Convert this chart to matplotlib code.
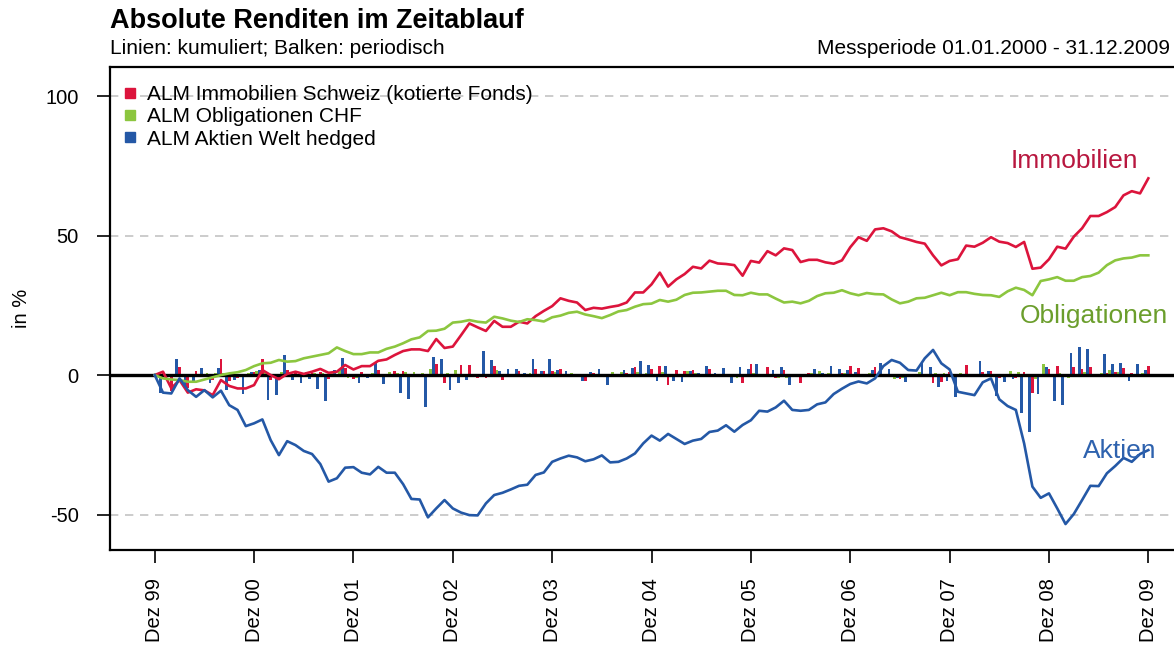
import numpy as np
import matplotlib
matplotlib.use('Agg')
import matplotlib.pyplot as plt
from matplotlib.lines import Line2D

plt.rcParams['font.family'] = ['Liberation Sans', 'DejaVu Sans']

# Cumulative returns in % (month-end, Dez 99 .. Dez 09)
immobilien = [0, 1.2, -4.7, -1.8, -6.3, -5.1, -5.5, -7.2, -1.8, -3.9, -4.8, -4.8,
              -3.6, 1.8, 0, -1.5, 0.4, 1.2, 0.4, 1.2, 2.2, 0.8, 1.2, 3.6,
              2.0, 3.2, 3.2, 5.1, 5.6, 7.2, 8.6, 9.2, 9.2, 8.6, 12.9, 9.7,
              10.2, 14.3, 18.5, 17.1, 15.8, 19.4, 17.3, 17.3, 19.1, 18.5, 21.1, 23.0,
              24.7, 27.5, 26.6, 26.0, 23.3, 24.1, 23.8, 24.4, 24.9, 26.0, 29.6, 29.6,
              32.5, 36.7, 31.7, 34.3, 36.2, 38.8, 38.2, 41.0, 40.0, 39.8, 39.4, 35.6,
              40.9, 40.3, 44.4, 42.9, 45.4, 44.8, 40.5, 41.3, 41.3, 40.4, 39.9, 41.1,
              45.8, 49.4, 48.1, 52.2, 52.6, 51.5, 49.4, 48.6, 47.7, 47.1, 42.9, 39.3,
              40.9, 41.5, 46.4, 46.0, 47.4, 49.4, 47.8, 47.3, 45.9, 47.7, 38.1, 38.5,
              41.5, 46.0, 45.3, 49.6, 52.6, 57.0, 57.0, 58.4, 60.2, 64.4, 65.9, 65.1,
              70.5]
obligationen = [0, -1.2, -1.6, -1.8, -2.4, -2.4, -1.6, -0.8, 0, 0.6, 1.0, 1.8,
                3.2, 4.2, 4.4, 5.4, 4.8, 5.0, 6.0, 6.6, 7.2, 7.8, 9.9, 8.6,
                7.5, 7.5, 8.1, 8.1, 9.4, 10.2, 11.4, 12.8, 13.5, 15.8, 15.9, 16.6,
                18.8, 19.1, 19.7, 19.1, 18.8, 20.9, 20.3, 19.5, 19.0, 20.0, 19.7, 19.2,
                20.7, 21.3, 22.3, 22.7, 21.7, 21.1, 20.4, 21.5, 22.8, 23.3, 24.5, 25.4,
                25.6, 26.9, 26.3, 27.0, 28.7, 29.5, 29.6, 29.9, 30.2, 30.2, 28.7, 28.6,
                29.5, 28.9, 28.9, 27.4, 26.0, 26.3, 25.7, 26.6, 28.3, 29.3, 29.5, 30.4,
                29.3, 28.6, 29.4, 29.0, 28.9, 27.1, 25.7, 26.3, 27.5, 27.7, 28.6, 29.5,
                28.6, 29.7, 29.7, 29.1, 28.7, 28.6, 28.0, 30.0, 31.3, 30.5, 28.6, 33.7,
                34.3, 35.1, 33.8, 33.8, 35.1, 35.5, 36.7, 39.4, 41.1, 41.8, 42.1, 42.9,
                42.9]
aktien = [0, -6.3, -6.6, -1.2, -5.4, -7.8, -5.4, -8.0, -5.6, -10.8, -12.5, -18.3,
          -17.3, -15.9, -23.3, -28.7, -23.7, -25.1, -27.2, -28.3, -31.9, -38.2, -37.0, -33.2,
          -33.0, -35.0, -35.6, -32.9, -35.0, -35.0, -39.1, -44.4, -44.6, -51.0, -47.8, -44.8,
          -47.8, -49.3, -50.2, -50.3, -46.0, -43.0, -42.2, -41.0, -39.7, -39.3, -35.8, -34.9,
          -31.1, -29.9, -28.9, -29.5, -30.9, -30.2, -28.8, -31.3, -31.1, -29.9, -28.1, -24.5,
          -21.7, -23.5, -21.1, -22.9, -24.7, -23.5, -22.9, -20.4, -19.9, -18.0, -20.3, -17.9,
          -16.2, -12.8, -13.1, -11.6, -9.2, -12.5, -12.8, -12.5, -10.5, -9.8, -6.8, -4.9,
          -3.2, -2.3, -3.0, -1.2, 3.2, 5.4, 4.4, 1.8, 1.6, 6.0, 9.0, 4.2,
          2.0, -6.0, -6.6, -7.2, -2.6, -1.2, -8.7, -11.1, -12.5, -24.5, -40.0, -44.0,
          -42.4, -47.8, -53.4, -49.8, -44.8, -39.7, -39.8, -35.2, -32.6, -29.7, -31.1, -28.3,
          -26.9]

year_labels = ['Dez 99', 'Dez 00', 'Dez 01', 'Dez 02', 'Dez 03', 'Dez 04',
               'Dez 05', 'Dez 06', 'Dez 07', 'Dez 08', 'Dez 09']
legend_labels = ['ALM Immobilien Schweiz (kotierte Fonds)', 'ALM Obligationen CHF',
                 'ALM Aktien Welt hedged']

c_red, c_green, c_blue = '#DC143C', '#8CC63F', '#2458A6'

W, H = 1174, 651


def periodic(cum):
    # monthly return implied by the cumulative series
    cum = np.asarray(cum) / 100.0
    return ((1 + cum[1:]) / (1 + cum[:-1]) - 1) * 100


months = np.arange(len(immobilien))
bw = 0.33

fig = plt.figure(figsize=(W / 100, H / 100), dpi=100)
ax = fig.add_axes([110 / W, 1 - 550 / H, 1 - 110 / W, (550 - 67) / H])

# bars: periodic returns
ax.bar(months[1:] - bw, periodic(aktien), width=bw, color=c_blue, zorder=2, linewidth=0)
ax.bar(months[1:], periodic(immobilien), width=bw, color=c_red, zorder=2, linewidth=0)
ax.bar(months[1:] + bw, periodic(obligationen), width=bw, color=c_green, zorder=2, linewidth=0)

# grid and zero line
for yv in [-50, 50, 100]:
    ax.axhline(yv, color='#c4c4c4', linestyle=(0, (5, 4)), linewidth=1.2, zorder=1)
ax.axhline(0, color='black', linewidth=2.4, zorder=3)

# lines: cumulative returns
ax.plot(months, immobilien, color=c_red, linewidth=1.9, zorder=4)
ax.plot(months, obligationen, color=c_green, linewidth=1.9, zorder=4)
ax.plot(months, aktien, color=c_blue, linewidth=1.9, zorder=4)

# series labels (placed in figure pixel fractions)
fig.text(1074 / W, 1 - 161 / H, 'Immobilien', color='#B8173F', fontsize=19,
         ha='center', va='center')
fig.text(1094 / W, 1 - 316 / H, 'Obligationen', color='#6B9E2C', fontsize=19,
         ha='center', va='center')
fig.text(1120 / W, 1 - 451 / H, 'Aktien', color='#2E62AE', fontsize=19,
         ha='center', va='center')

ax.set_xlim(-5.4, 123.1)
ax.set_ylim(-62.7, 110.4)
ax.set_xticks(months[::12])
ax.set_xticklabels(year_labels, rotation=90, fontsize=14.5)
ax.set_yticks([-50, 0, 50, 100])
ax.set_yticklabels(['-50', '0', '50', '100'], fontsize=14.5)
ax.tick_params(axis='x', length=9, width=1.2, pad=11)
ax.tick_params(axis='y', length=9.5, width=1.2, pad=13)
ax.set_ylabel('in %', fontsize=14.5, labelpad=10)
ax.spines['right'].set_visible(False)
for sp in ax.spines.values():
    sp.set_linewidth(1.6)

handles = [Line2D([], [], marker='s', linestyle='none', markersize=7, color=c)
           for c in [c_red, c_green, c_blue]]
ax.legend(handles, legend_labels, loc='upper left', frameon=False, fontsize=15,
          handlelength=0.6, handletextpad=0.5, labelspacing=0.16,
          borderaxespad=0.0, bbox_to_anchor=(0.005, 0.98))

fig.text(110 / W, 1 - 21 / H, 'Absolute Renditen im Zeitablauf',
         fontsize=19.5, fontweight='bold', va='center')
fig.text(110 / W, 1 - 49 / H, 'Linien: kumuliert; Balken: periodisch',
         fontsize=15, va='center')
fig.text(1170 / W, 1 - 49 / H, 'Messperiode 01.01.2000 - 31.12.2009',
         fontsize=15, va='center', ha='right')

fig.savefig('out.png', dpi=100)
